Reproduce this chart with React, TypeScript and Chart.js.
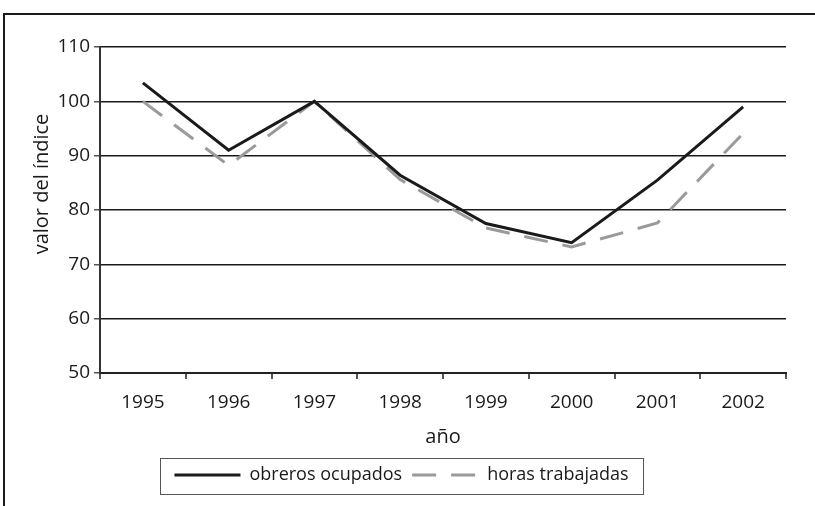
import React, { useEffect, useRef } from "react";
import { Chart, registerables } from "chart.js";

Chart.register(...registerables);

const years = ["1995", "1996", "1997", "1998", "1999", "2000", "2001", "2002"];
const obrerosOcupados = [103.4, 91.0, 100.0, 86.4, 77.5, 74.0, 85.5, 99.0];
const horasTrabajadas = [100.0, 88.2, 100.0, 85.6, 76.7, 73.2, 77.6, 94.1];
const seriesNames = ["obreros ocupados", "horas trabajadas"];
const yTitle = "valor del índice";
const xTitle = "año";
const yMin = 50;
const yMax = 110;
const yStep = 10;

const FONT = "'Open Sans', 'Noto Sans', sans-serif";
const TEXT = "#1a1a1a";

const legendBoxPlugin = {
  id: "legendBox",
  afterDraw(chart: any) {
    const legend = chart.legend;
    if (!legend || !legend.legendHitBoxes || !legend.legendHitBoxes.length) return;
    const boxes = legend.legendHitBoxes;
    const first = boxes[0];
    const last = boxes[boxes.length - 1];
    const cy = first.top + first.height / 2;
    const left = first.left - 14;
    const right = last.left + last.width + 15;
    const ctx = chart.ctx;
    ctx.save();
    ctx.strokeStyle = "#555";
    ctx.lineWidth = 1;
    ctx.setLineDash([]);
    ctx.strokeRect(Math.round(left) + 0.5, Math.round(cy - 17) + 0.5, Math.round(right - left), 36);
    ctx.restore();
  },
};

export default function App() {
  const canvasRef = useRef<HTMLCanvasElement | null>(null);

  useEffect(() => {
    if (!canvasRef.current) return;
    const baseGenerate = (Chart as any).defaults.plugins.legend.labels.generateLabels;
    const chart = new Chart(canvasRef.current, {
      type: "line",
      data: {
        labels: years,
        datasets: [
          {
            label: seriesNames[0],
            data: obrerosOcupados,
            borderColor: "#1a1a1a",
            backgroundColor: "#1a1a1a",
            borderWidth: 3,
            pointRadius: 0,
            tension: 0,
          },
          {
            label: seriesNames[1],
            data: horasTrabajadas,
            borderColor: "#9a9a9a",
            backgroundColor: "#9a9a9a",
            borderWidth: 3,
            borderDash: [24, 15],
            pointRadius: 0,
            tension: 0,
          },
        ],
      },
      options: {
        animation: false,
        responsive: false,
        maintainAspectRatio: false,
        layout: { padding: { left: 17, right: 29, top: 47, bottom: 12 } },
        plugins: {
          tooltip: { enabled: false },
          legend: {
            display: true,
            position: "bottom",
            labels: {
              usePointStyle: true,
              pointStyle: "line",
              pointStyleWidth: 66,
              padding: 10,
              color: TEXT,
              font: { family: FONT, size: 18 },
              generateLabels(ch: any) {
                const items = baseGenerate(ch);
                return items.map((it: any) => {
                  const ds = ch.data.datasets[it.datasetIndex];
                  return {
                    ...it,
                    pointStyle: "line",
                    lineWidth: ds.borderWidth,
                    strokeStyle: ds.borderColor,
                    lineDash: ds.borderDash || [],
                    lineDashOffset: 0,
                  };
                });
              },
            },
          },
        },
        scales: {
          x: {
            type: "category",
            offset: true,
            afterFit(scale: any) {
              scale.height = 83;
            },
            grid: {
              offset: true,
              drawOnChartArea: true,
              color: (ctx: any) => (ctx.index === years.length ? "#777" : "rgba(0,0,0,0)"),
              tickColor: "#555",
              tickLength: 6,
              lineWidth: 2,
            },
            border: { display: true, color: "#222", width: 2 },
            ticks: {
              color: TEXT,
              padding: 12,
              maxRotation: 0,
              font: { family: FONT, size: 19 },
            },
            title: {
              display: true,
              text: xTitle,
              color: TEXT,
              font: { family: FONT, size: 20 },
              padding: { top: 4, bottom: 7 },
            },
          },
          y: {
            min: yMin,
            max: yMax,
            afterFit(scale: any) {
              scale.width = 83;
            },
            grid: {
              color: "#1a1a1a",
              lineWidth: 1.5,
              tickColor: "#555",
              tickLength: 6,
            },
            border: { display: true, color: "#333", width: 2 },
            ticks: {
              stepSize: yStep,
              color: TEXT,
              padding: 4,
              font: { family: FONT, size: 19 },
            },
            title: {
              display: true,
              text: "          " + yTitle,
              color: TEXT,
              font: { family: FONT, size: 20 },
              padding: { top: 13, bottom: 0 },
            },
          },
        },
      },
      plugins: [legendBoxPlugin],
    });
    return () => chart.destroy();
  }, []);

  return (
    <div style={{ position: "fixed", left: 0, top: 0, width: 815, height: 506, background: "#fff" }}>
      <div
        style={{
          position: "absolute",
          left: 3,
          top: 13,
          width: 812,
          height: 493,
          borderTop: "2px solid #1a1a1a",
          borderLeft: "2px solid #1a1a1a",
          boxSizing: "border-box",
        }}
      />
      <canvas ref={canvasRef} width={815} height={506} style={{ position: "absolute", left: 0, top: 0 }} />
    </div>
  );
}
